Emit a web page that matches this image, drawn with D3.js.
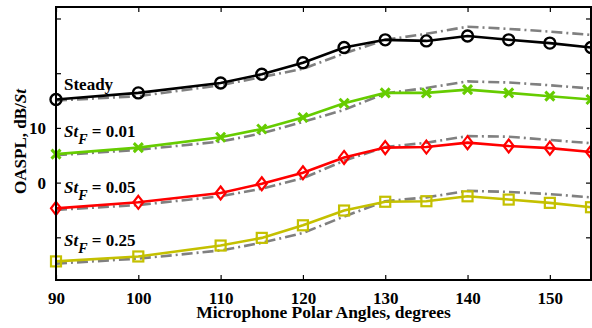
<!DOCTYPE html>
<html>
<head>
<meta charset="utf-8">
<script src="https://cdn.jsdelivr.net/npm/d3@7"></script>
<style>
  body { margin: 0; background: #fff; }
  text { font-family: "Liberation Serif", "Times New Roman", serif; font-weight: bold; }
</style>
</head>
<body>
<svg id="chart"></svg>
<script>
// size
const width = 592;
const height = 328;

// boundaries
const margin = { top: 7, right: 1, bottom: 48, left: 56 };
const innerWidth = width - margin.left - margin.right;
const innerHeight = height - margin.top - margin.bottom;

// data
const angles = [90, 100, 110, 115, 120, 125, 130, 135, 140, 145, 150, 155];
const steady     = [15.2, 16.4, 18.2, 19.8, 21.9, 24.7, 26.1, 25.9, 26.8, 26.1, 25.5, 24.7];
const steadyRef  = [15.0, 15.8, 17.8, 19.3, 20.8, 23.6, 26.1, 27.2, 28.5, 28.1, 27.6, 27.0];
const stf001     = [5.2, 6.4, 8.3, 9.8, 11.9, 14.5, 16.4, 16.4, 17.0, 16.4, 15.8, 15.2];
const stf001Ref  = [5.0, 6.0, 7.5, 9.0, 11.1, 13.3, 16.3, 17.3, 18.5, 18.3, 17.8, 17.2];
const stf005     = [-4.7, -3.6, -1.9, -0.2, 1.8, 4.6, 6.4, 6.5, 7.3, 6.7, 6.3, 5.6];
const stf005Ref  = [-5.0, -4.1, -2.5, -1.1, 0.8, 4.0, 6.5, 7.3, 8.5, 8.4, 7.8, 7.2];
const stf025     = [-14.4, -13.5, -11.5, -10.1, -7.8, -5.1, -3.5, -3.4, -2.5, -3.1, -3.7, -4.5];
const stf025Ref  = [-14.8, -13.9, -12.4, -11.0, -9.2, -6.2, -3.4, -2.7, -1.5, -1.7, -2.1, -2.7];

const xTicks = [90, 100, 110, 120, 130, 140, 150];
const yTicks = [-10, 0, 10, 20, 30];
const yTickLabels = { 0: "0", 10: "10" };

const series = [
    { name: "Steady", values: steady, ref: steadyRef, color: "#000000", marker: "circle", label: [{ t: "Steady" }] },
    { name: "0.01", values: stf001, ref: stf001Ref, color: "#66cc00", marker: "x", label: [{ t: "St", i: true }, { t: "F", i: true, sub: true }, { t: " = 0.01" }] },
    { name: "0.05", values: stf005, ref: stf005Ref, color: "#ff0000", marker: "diamond", label: [{ t: "St", i: true }, { t: "F", i: true, sub: true }, { t: " = 0.05" }] },
    { name: "0.25", values: stf025, ref: stf025Ref, color: "#c4c000", marker: "square", label: [{ t: "St", i: true }, { t: "F", i: true, sub: true }, { t: " = 0.25" }] }
];
// label baselines (in data units) near the left edge
const labelValues = [16.9, 8.4, -1.9, -11.5];

const svg = d3.select("#chart")
    .attr("width", width)
    .attr("height", height);

const g = svg.append("g")
    .attr("transform", `translate(${margin.left},${margin.top})`);

const xScale = d3.scaleLinear().domain([90, 155]).range([0, innerWidth]);
const yScale = d3.scaleLinear().domain([-17.8, 32.1]).range([innerHeight, 0]);

// axes
const tickLen = 5;
const xAxis = d3.axisBottom(xScale).tickValues(xTicks).tickSize(-tickLen).tickPadding(12).tickFormat(d3.format("d"));
const xAxisTop = d3.axisTop(xScale).tickValues(xTicks).tickSize(-tickLen).tickFormat("");
const yAxis = d3.axisLeft(yScale).tickValues(yTicks).tickSize(-tickLen).tickPadding(10).tickFormat(d => yTickLabels[d] || "");
const yAxisRight = d3.axisRight(yScale).tickValues(yTicks).tickSize(-tickLen).tickFormat("");

function styleAxis(sel) {
    sel.select(".domain").remove();
    sel.selectAll(".tick line").attr("stroke", "#000").attr("stroke-width", 1.2);
    sel.selectAll(".tick text").attr("fill", "#000").style("font-size", "17px");
    // drop unlabeled tick texts
    sel.selectAll(".tick text").filter(function() { return this.textContent === ""; }).remove();
}

g.append("g").attr("transform", `translate(0,${innerHeight})`).call(xAxis).call(styleAxis);
g.append("g").call(xAxisTop).call(styleAxis);
g.append("g").call(yAxis).call(styleAxis);
g.append("g").attr("transform", `translate(${innerWidth},0)`).call(yAxisRight).call(styleAxis);

// reference lines (dash-dot gray)
const line = d3.line()
    .x((d, i) => xScale(angles[i]))
    .y(d => yScale(d));

series.forEach(s => {
    g.append("path")
        .datum(s.ref)
        .attr("d", line)
        .attr("fill", "none")
        .attr("stroke", "#808080")
        .attr("stroke-width", 2.6)
        .attr("stroke-dasharray", "11,4,2,4");
});

// main lines + markers
series.forEach(s => {
    g.append("path")
        .datum(s.values)
        .attr("d", line)
        .attr("fill", "none")
        .attr("stroke", s.color)
        .attr("stroke-width", 2.6);

    const m = g.append("g").selectAll("g")
        .data(s.values)
        .enter()
        .append("g")
        .attr("transform", (d, i) => `translate(${xScale(angles[i])},${yScale(d)})`);

    if (s.marker === "circle") {
        m.append("circle").attr("r", 5.5).attr("fill", "none").attr("stroke", s.color).attr("stroke-width", 2.4);
    } else if (s.marker === "x") {
        m.append("path").attr("d", "M-4.5,-4.5L4.5,4.5M-4.5,4.5L4.5,-4.5")
            .attr("stroke", s.color).attr("stroke-width", 3);
    } else if (s.marker === "diamond") {
        m.append("path").attr("d", "M0,-6.5L5,0L0,6.5L-5,0Z")
            .attr("fill", "none").attr("stroke", s.color).attr("stroke-width", 2.2);
    } else if (s.marker === "square") {
        m.append("rect").attr("x", -5).attr("y", -5).attr("width", 10).attr("height", 10)
            .attr("fill", "none").attr("stroke", s.color).attr("stroke-width", 2.2);
    }
});

// series labels
series.forEach((s, k) => {
    const t = g.append("text")
        .attr("x", 8)
        .attr("y", yScale(labelValues[k]))
        .attr("fill", "#000")
        .style("font-size", "17px");
    s.label.forEach(p => {
        const ts = t.append("tspan").text(p.t);
        if (p.i) ts.style("font-style", "italic");
        if (p.sub) ts.attr("dy", 7).style("font-size", "14px");
        else if (s.label.length > 1 && p.t.startsWith(" ")) ts.attr("dy", -7);
    });
});

// axis labels
svg.append("text")
    .attr("text-anchor", "middle")
    .attr("x", margin.left + innerWidth / 2)
    .attr("y", 318)
    .style("font-size", "17.5px")
    .text("Microphone Polar Angles, degrees");

const yl = svg.append("text")
    .attr("text-anchor", "middle")
    .attr("transform", `translate(26, ${margin.top + innerHeight / 2 - 2}) rotate(-90)`)
    .style("font-size", "17px");
yl.append("tspan").text("OASPL, dB/");
yl.append("tspan").style("font-style", "italic").text("St");

// frame
g.append("rect")
    .attr("width", innerWidth)
    .attr("height", innerHeight)
    .attr("fill", "none")
    .attr("stroke", "#000")
    .attr("stroke-width", 2);
</script>
</body>
</html>
